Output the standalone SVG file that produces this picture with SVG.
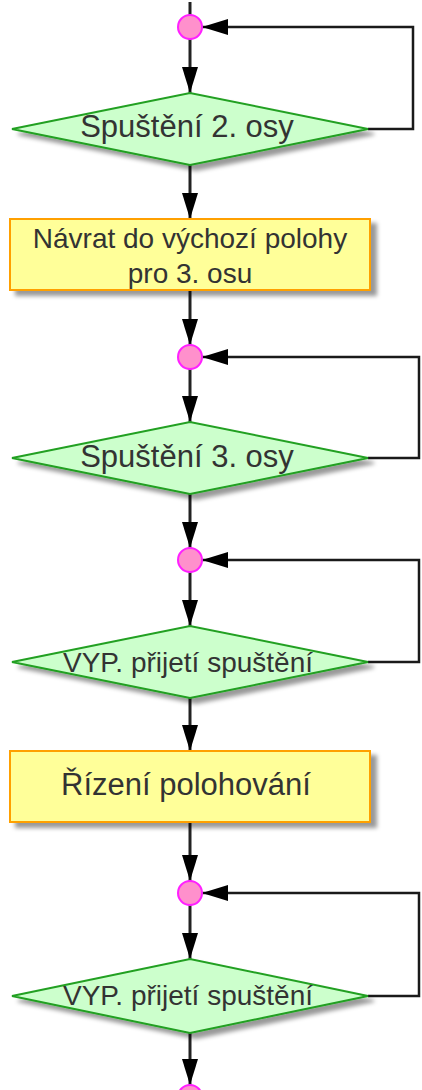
<svg xmlns="http://www.w3.org/2000/svg" width="422" height="1090" viewBox="0 0 422 1090">
<style>
.dia{fill:#ccffcc;stroke:#22a022;stroke-width:2}
.box{fill:#ffff99;stroke:#ffa000;stroke-width:2}
.dot{fill:#ff90cc;stroke:#ff20ff;stroke-width:2}
.t{font-family:"Liberation Sans",Arial,sans-serif;fill:#333333;text-anchor:middle}
.c{fill:none;stroke:#222222;stroke-width:3}
.lp{fill:none;stroke:#1a1a1a;stroke-width:2.5}
</style>
<defs>
<filter id="sh" x="-10%" y="-20%" width="130%" height="150%">
<feGaussianBlur in="SourceAlpha" stdDeviation="2"/>
<feOffset dx="6" dy="5" result="b"/>
<feFlood flood-color="#000" flood-opacity="0.4"/>
<feComposite in2="b" operator="in"/>
<feMerge><feMergeNode/><feMergeNode in="SourceGraphic"/></feMerge>
</filter>
<marker id="ah" viewBox="0 0 26 16" refX="26" refY="8" markerWidth="26" markerHeight="16" markerUnits="userSpaceOnUse" orient="auto">
<path d="M0,0 L26,8 L0,16 z" fill="#000"/>
</marker>
</defs>
<g id="connectors">
<path class="c" d="M190,2 L190,15"/>
<path class="c" d="M190,39 L190,93" marker-end="url(#ah)"/>
<path class="lp" d="M368,129 L413,129 L413,27 L202,27" marker-end="url(#ah)"/>
<path class="c" d="M190,165 L190,219" marker-end="url(#ah)"/>
<path class="c" d="M190,291 L190,345" marker-end="url(#ah)"/>
<path class="c" d="M190,369 L190,422" marker-end="url(#ah)"/>
<path class="lp" d="M368,458 L419,458 L419,357 L202,357" marker-end="url(#ah)"/>
<path class="c" d="M190,494 L190,548" marker-end="url(#ah)"/>
<path class="c" d="M190,572 L190,626" marker-end="url(#ah)"/>
<path class="lp" d="M368,662 L419,662 L419,560 L202,560" marker-end="url(#ah)"/>
<path class="c" d="M190,698 L190,751" marker-end="url(#ah)"/>
<path class="c" d="M190,822 L190,881" marker-end="url(#ah)"/>
<path class="c" d="M190,905 L190,959" marker-end="url(#ah)"/>
<path class="lp" d="M368,996 L419,996 L419,893 L202,893" marker-end="url(#ah)"/>
<path class="c" d="M190,1033 L190,1085" marker-end="url(#ah)"/>
</g>
<g id="j1"><circle class="dot" cx="190" cy="27" r="12"/></g>
<g id="d1"><path class="dia" filter="url(#sh)" d="M12,129 L190,93 L368,129 L190,165 z"/><text class="t" x="187" y="137" font-size="31">Spuštění 2. osy</text></g>
<g id="r1"><rect class="box" filter="url(#sh)" x="10" y="219" width="360" height="71"/><text class="t" x="190" y="248" font-size="28">Návrat do výchozí polohy</text><text class="t" x="190" y="283" font-size="28">pro 3. osu</text></g>
<g id="j2"><circle class="dot" cx="190" cy="357" r="12"/></g>
<g id="d2"><path class="dia" filter="url(#sh)" d="M12,458 L190,422 L368,458 L190,494 z"/><text class="t" x="187" y="467" font-size="31">Spuštění 3. osy</text></g>
<g id="j3"><circle class="dot" cx="190" cy="560" r="12"/></g>
<g id="d3"><path class="dia" filter="url(#sh)" d="M12,662 L190,626 L368,662 L190,698 z"/><text class="t" x="188" y="672" font-size="28">VYP. přijetí spuštění</text></g>
<g id="r2"><rect class="box" filter="url(#sh)" x="10" y="751" width="360" height="71"/><text class="t" x="186" y="795" font-size="31">Řízení polohování</text></g>
<g id="j4"><circle class="dot" cx="190" cy="893" r="12"/></g>
<g id="d4"><path class="dia" filter="url(#sh)" d="M12,996 L190,959 L368,996 L190,1033 z"/><text class="t" x="188" y="1005" font-size="28">VYP. přijetí spuštění</text></g>
<g id="j5"><circle class="dot" cx="190" cy="1097" r="12"/></g>
</svg>
